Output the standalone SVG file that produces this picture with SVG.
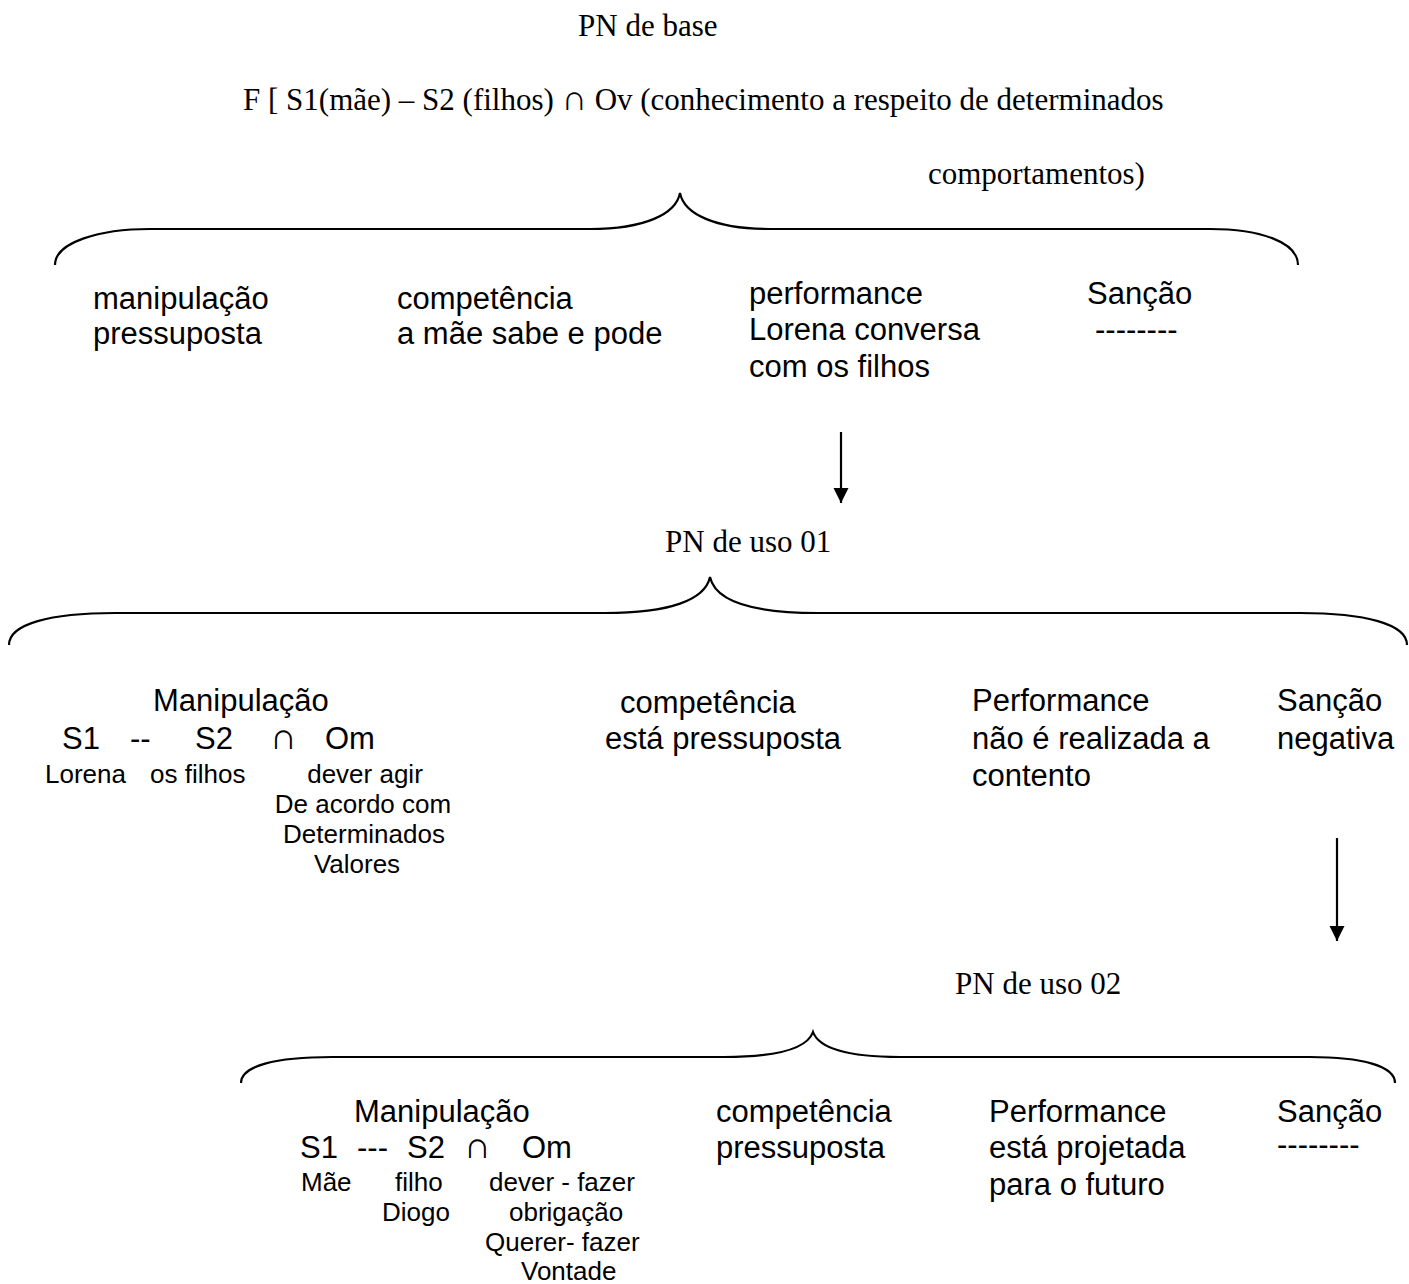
<svg xmlns="http://www.w3.org/2000/svg" width="1409" height="1284" viewBox="0 0 1409 1284">
  <style>
    .serif { font-family: "Liberation Serif", "Times New Roman", serif; font-size: 31px; fill: #000; }
    .sans { font-family: "Liberation Sans", Arial, sans-serif; font-size: 31px; fill: #000; }
    .small { font-family: "Liberation Sans", Arial, sans-serif; font-size: 26px; fill: #000; }
    .cap { font-family: "Liberation Sans", Arial, sans-serif; font-size: 37px; }
    .brace { fill: none; stroke: #000; stroke-width: 2.2; }
    .arrow { fill: none; stroke: #000; stroke-width: 2.2; }
  </style>
  <defs>
    <marker id="head" viewBox="0 0 10 10" refX="10" refY="5" markerWidth="7" markerHeight="7" markerUnits="strokeWidth" orient="auto">
      <path d="M0,0 L10,5 L0,10 Z" fill="#000"/>
    </marker>
  </defs>
  <rect width="1409" height="1284" fill="#fff"/>

  <!-- base narrative programme -->
  <g id="pn-base">
    <text class="serif" x="578" y="36">PN de base</text>
    <text class="serif" x="243" y="110">F [ S1(mãe) – S2 (filhos) <tspan font-size="35">∩</tspan> Ov (conhecimento a respeito de determinados</text>
    <text class="serif" x="928" y="184">comportamentos)</text>
  </g>
  <g id="pn-base-manipulacao">
    <text class="sans" x="93" y="309">manipulação</text>
    <text class="sans" x="93" y="344">pressuposta</text>
  </g>
  <g id="pn-base-competencia">
    <text class="sans" x="397" y="309">competência</text>
    <text class="sans" x="397" y="344">a mãe sabe e pode</text>
  </g>
  <g id="pn-base-performance">
    <text class="sans" x="749" y="304">performance</text>
    <text class="sans" x="749" y="340">Lorena conversa</text>
    <text class="sans" x="749" y="377">com os filhos</text>
  </g>
  <g id="pn-base-sancao">
    <text class="sans" x="1087" y="304">Sanção</text>
    <text class="sans" x="1095" y="340">--------</text>
  </g>

  <!-- first use programme -->
  <g id="pn-uso-01">
    <text class="serif" x="665" y="552">PN de uso 01</text>
  </g>
  <g id="pn01-manipulacao">
    <text class="sans" x="153" y="711">Manipulação</text>
    <text class="sans" x="62" y="749">S1</text>
    <text class="sans" x="130" y="749">--</text>
    <text class="sans" x="195" y="749">S2</text>
    <text class="cap" x="270" y="749">∩</text>
    <text class="sans" x="325" y="749">Om</text>
    <text class="small" x="45" y="783">Lorena</text>
    <text class="small" x="150" y="783">os filhos</text>
    <g text-anchor="middle">
      <text class="small" x="365" y="783">dever agir</text>
      <text class="small" x="363" y="813">De acordo com</text>
      <text class="small" x="364" y="843">Determinados</text>
      <text class="small" x="357" y="873">Valores</text>
    </g>
  </g>
  <g id="pn01-competencia">
    <text class="sans" x="620" y="713">competência</text>
    <text class="sans" x="605" y="749">está pressuposta</text>
  </g>
  <g id="pn01-performance">
    <text class="sans" x="972" y="711">Performance</text>
    <text class="sans" x="972" y="749">não é realizada a</text>
    <text class="sans" x="972" y="786">contento</text>
  </g>
  <g id="pn01-sancao">
    <text class="sans" x="1277" y="711">Sanção</text>
    <text class="sans" x="1277" y="749">negativa</text>
  </g>

  <!-- second use programme -->
  <g id="pn-uso-02">
    <text class="serif" x="955" y="994">PN de uso 02</text>
  </g>
  <g id="pn02-manipulacao">
    <text class="sans" x="354" y="1122">Manipulação</text>
    <text class="sans" x="300" y="1158">S1</text>
    <text class="sans" x="357" y="1158">---</text>
    <text class="sans" x="407" y="1158">S2</text>
    <text class="cap" x="464" y="1158">∩</text>
    <text class="sans" x="522" y="1158">Om</text>
    <text class="small" x="301" y="1191">Mãe</text>
    <text class="small" x="395" y="1191">filho</text>
    <text class="small" x="489" y="1191">dever - fazer</text>
    <text class="small" x="382" y="1221">Diogo</text>
    <text class="small" x="509" y="1221">obrigação</text>
    <text class="small" x="485" y="1251">Querer- fazer</text>
    <text class="small" x="521" y="1280">Vontade</text>
  </g>
  <g id="pn02-competencia">
    <text class="sans" x="716" y="1122">competência</text>
    <text class="sans" x="716" y="1158">pressuposta</text>
  </g>
  <g id="pn02-performance">
    <text class="sans" x="989" y="1122">Performance</text>
    <text class="sans" x="989" y="1158">está projetada</text>
    <text class="sans" x="989" y="1195">para o futuro</text>
  </g>
  <g id="pn02-sancao">
    <text class="sans" x="1277" y="1122">Sanção</text>
    <text class="sans" x="1277" y="1155">--------</text>
  </g>

  <!-- braces and arrows -->
  <g id="connectors">
    <path class="brace" d="M55,265 C55,242 100,229 150,229 L590,229 C645,229 676,214 680,193 C684,214 715,229 770,229 L1210,229 C1260,229 1298,242 1298,265"/>
    <path class="brace" d="M9,645 C9,624 50,613 115,613 L605,613 C670,613 705,600 710,577 C715,600 750,613 818,613 L1300,613 C1365,613 1407,624 1407,645"/>
    <path class="brace" d="M241,1083 C241,1066 275,1057 332,1057 L724,1057 C785,1057 808,1046 813,1032 C818,1046 842,1057 900,1057 L1310,1057 C1362,1057 1395,1066 1395,1083"/>
    <line class="arrow" x1="841" y1="432" x2="841" y2="503" marker-end="url(#head)"/>
    <line class="arrow" x1="1337" y1="838" x2="1337" y2="941" marker-end="url(#head)"/>
  </g>
</svg>
